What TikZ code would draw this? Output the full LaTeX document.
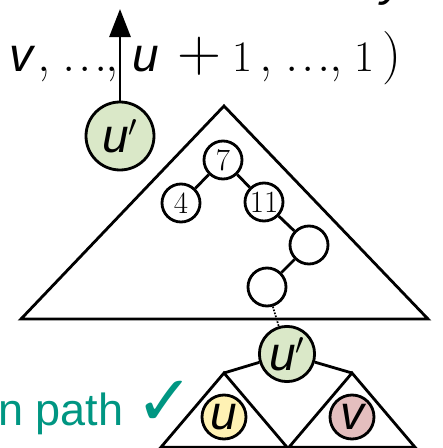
\RequirePackage{fix-cm}
\documentclass[tikz,border=0pt]{standalone}
\usepackage{fontspec}
\setmainfont{Liberation Sans}
\newfontfamily\cmfont{Latin Modern Roman}
\newfontfamily\checkfont{DejaVu Sans}
\usetikzlibrary{arrows.meta}
\definecolor{kitgreen}{RGB}{0,150,130}
\definecolor{ugreen}{RGB}{218,232,200}
\definecolor{uyellow}{RGB}{255,242,180}
\definecolor{vred}{RGB}{228,190,190}
\newcommand\varit[1]{{\fontsize{34}{40}\selectfont\itshape #1}}
\newcommand\cmp[1]{{\cmfont\fontsize{38}{40}\selectfont #1}}
\newcommand\cmdots{\cmp{.\kern1.85pt.\kern1.85pt.}}

\begin{document}
\begin{tikzpicture}[>={Triangle[length=20pt,width=15pt]},line width=2pt,
  bigfont/.style={font=\fontsize{31}{36}\selectfont},
  vert/.style={circle,draw,fill=white,inner sep=0pt,minimum size=0.95cm,font=\cmfont\fontsize{22}{24}\selectfont},
  var/.style={circle,draw,inner sep=0pt,bigfont}]
\useasboundingbox (0,0) rectangle (11.05,11.2);
\node[bigfont,anchor=base west,inner sep=0pt] (seq) at (0.2,9.4)
  {\varit{v}\kern2.8pt\cmp{,}\kern8.6pt\cmdots\kern-1.9pt\cmp{,}\kern9.8pt\varit{u}\kern13pt\scalebox{1.4}{\cmfont +}\kern8pt{\cmfont 1}\kern4.7pt\cmp{,}\kern9.3pt\cmdots\kern-0.6pt\cmp{,}\kern8.3pt{\cmfont 1}\kern5.5pt\cmp{)}};
\node[bigfont,anchor=base west,inner sep=0pt] (yy) at (9.5,11.3) {\varit{y}};
\node[var,fill=ugreen,minimum size=1.7cm] (topu) at (3,7.8) {\varit{u}$'$};
\coordinate (tip) at (3,10.975);
\draw[->] (topu) -- (tip);
\draw (0.525,3.225) -- (10.7,3.225) -- (5.6,8.55) -- cycle;
\node[vert] (n7) at (5.575,7.2) {7};
\node[vert] (n4) at (4.525,6.125) {4};
\node[vert] (n11) at (6.6,6.15) {11};
\node[vert] (na) at (7.725,5.075) {};
\node[vert] (nb) at (6.675,4.025) {};
\draw (n7) -- (n4);
\draw (n7) -- (n11);
\draw (n11) -- (na);
\draw (na) -- (nb);
\node[var,fill=ugreen,minimum size=1.38cm] (lowu) at (7.175,2.35) {\varit{u}$'$};
\draw[line width=1.2pt,densely dotted] (nb) -- (lowu);
\coordinate (lt) at (5.6,1.875);
\coordinate (rt) at (8.8,1.875);
\draw (4.025,0.02) -- (lt) -- (7.175,0.02) -- cycle;
\draw (7.225,0.02) -- (rt) -- (10.375,0.02) -- cycle;
\draw (lowu) -- (lt);
\draw (lowu) -- (rt);
\node[var,fill=uyellow,minimum size=1.1cm] (nu) at (5.6,0.775) {\varit{u}};
\node[var,fill=vred,minimum size=1.1cm] (nv) at (8.8,0.775) {\varit{v}};
\node[anchor=base west,inner sep=0pt,text=kitgreen,font=\fontsize{32}{36}\selectfont] (onpath) at (-0.075,0.575)
  {n path {\checkfont\fontsize{50}{50}\selectfont ✓}};
\end{tikzpicture}
\end{document}
